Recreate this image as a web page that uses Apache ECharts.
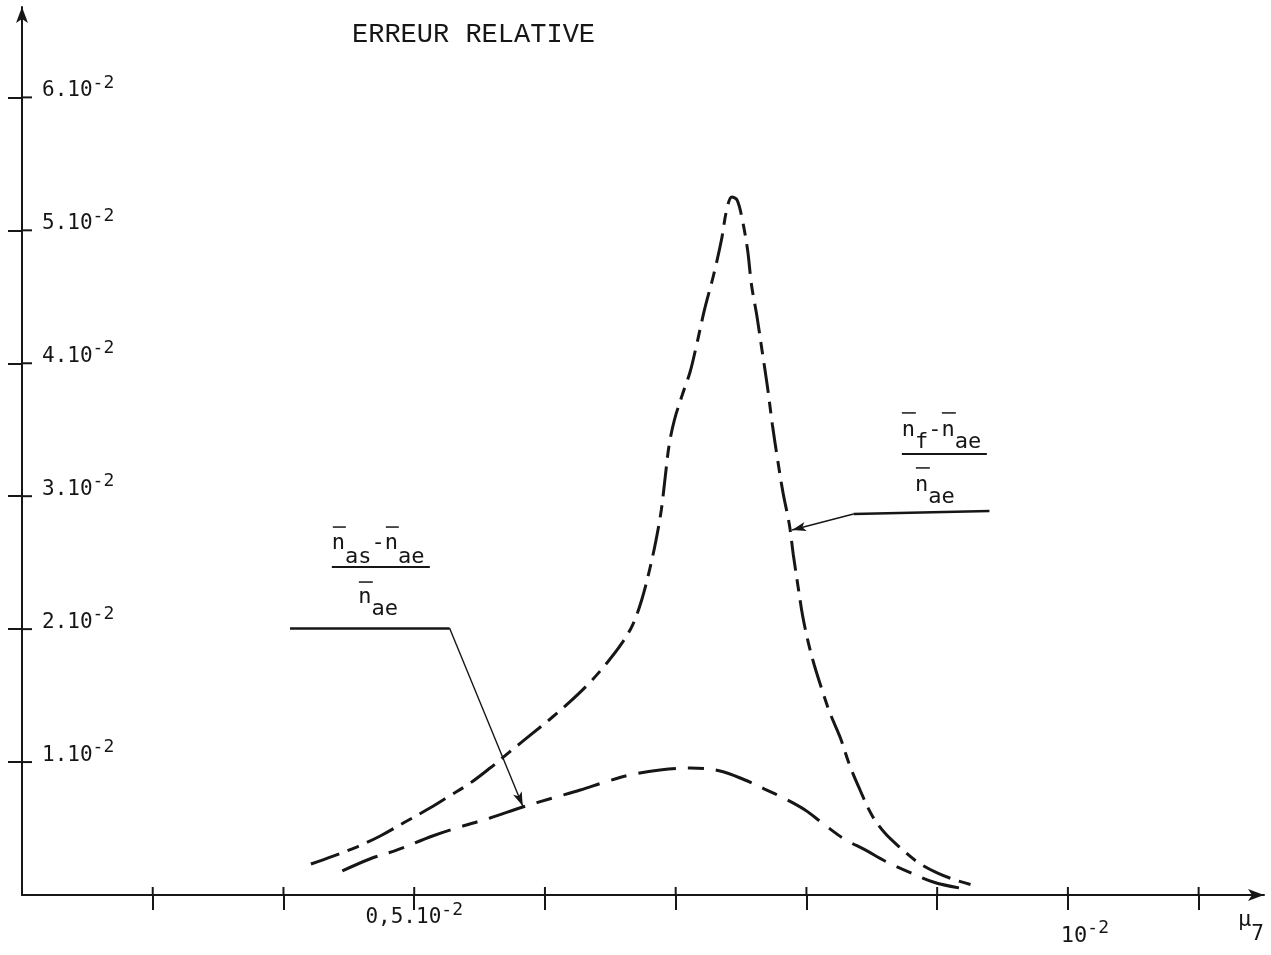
<!DOCTYPE html>
<html>
<head>
<meta charset="utf-8">
<title>Erreur relative</title>
<script src="https://cdn.jsdelivr.net/npm/echarts@6.0.0/dist/echarts.min.js"></script>
<style>
  html, body { margin: 0; padding: 0; background: #fff; }
  #main { width: 1271px; height: 955px; }
</style>
</head>
<body>
<div id="main"></div>
<script>
// courbe (nf - nae) / nae  (tirets, grand pic)
var nfMu = [0.00421, 0.00438, 0.00456, 0.00474, 0.00493, 0.00512, 0.00527, 0.00543, 0.00558, 0.00573,
  0.00589, 0.00604, 0.00619, 0.00634, 0.00648, 0.00659, 0.00667, 0.00674, 0.00680, 0.00685,
  0.00689, 0.00692, 0.00695, 0.00699, 0.00705, 0.00711, 0.00716, 0.00722, 0.00729, 0.00735,
  0.00739, 0.00743, 0.00747, 0.00751, 0.00755, 0.00758, 0.00762, 0.00766, 0.00770, 0.00774,
  0.00778, 0.00782, 0.00787, 0.00790, 0.00794, 0.00797, 0.00801, 0.00806, 0.00812, 0.00818,
  0.00826, 0.00833, 0.00841, 0.00850, 0.00860, 0.00872, 0.00885, 0.00900, 0.00914, 0.00927];
var nfErr = [0.00233, 0.00293, 0.00361, 0.00444, 0.00549, 0.00654, 0.00745, 0.00843, 0.00955, 0.01076,
  0.01204, 0.01324, 0.01452, 0.01595, 0.01753, 0.01896, 0.02031, 0.02219, 0.02445, 0.02671,
  0.02896, 0.03145, 0.03385, 0.03573, 0.03761, 0.03934, 0.04138, 0.04401, 0.04664, 0.04927,
  0.05153, 0.05251, 0.05228, 0.05078, 0.04852, 0.04589, 0.04363, 0.04100, 0.03837, 0.03536,
  0.03272, 0.03032, 0.02783, 0.02558, 0.02294, 0.02106, 0.01918, 0.01730, 0.01542, 0.01369,
  0.01181, 0.00978, 0.00790, 0.00602, 0.00466, 0.00354, 0.00248, 0.00166, 0.00113, 0.00075];

// courbe (nas - nae) / nae  (tirets longs, bosse basse)
var asMu = [0.00445, 0.00466, 0.00487, 0.00514, 0.00535, 0.00558, 0.00583, 0.00606, 0.00627, 0.00646,
  0.00665, 0.00688, 0.00711, 0.00734, 0.00753, 0.00768, 0.00784, 0.00799, 0.00814, 0.00829,
  0.00845, 0.00860, 0.00875, 0.00897, 0.00917];
var asErr = [0.00181, 0.00271, 0.00339, 0.00444, 0.00512, 0.00579, 0.00662, 0.00730, 0.00790, 0.00850,
  0.00903, 0.00940, 0.00955, 0.00933, 0.00865, 0.00797, 0.00722, 0.00639, 0.00527, 0.00421,
  0.00339, 0.00256, 0.00188, 0.00098, 0.00053];

// graduations
var xTicks = [0.003, 0.004, 0.005, 0.006, 0.007, 0.008, 0.009, 0.010, 0.011];
var yTicks = [0.01, 0.02, 0.03, 0.04, 0.05, 0.06];
var yLabelText = ['1.10', '2.10', '3.10', '4.10', '5.10', '6.10'];

// fleches des legendes (en unites des axes)
var asLeader = [[0.00405, 0.02009], [0.00527, 0.02009], [0.00583, 0.00670]];
var nfLeader = [[0.00940, 0.02889], [0.00836, 0.02866], [0.00789, 0.02746]];
var asLabelAt = [0.00437, 0.02467];
var nfLabelAt = [0.00873, 0.03318];

var ink = '#161616';
var mono = '"DejaVu Sans Mono", "Liberation Mono", monospace';
var xMin = 0.002;

function pairs(xs, ys) {
  var out = [];
  for (let i = 0; i < xs.length; i++) {
    out.push([xs[i], ys[i]]);
  }
  return out;
}

function leader(pts) {
  return [
    [{coord: pts[0], lineStyle: {width: 2.5}}, {coord: pts[1]}],
    [{coord: pts[1], lineStyle: {width: 1.4}}, {coord: pts[2], symbol: 'arrow', symbolSize: [7, 14]}]
  ];
}

// petit bout de graduation de l'autre cote de l'axe (les graduations croisent l'axe)
function crossTick(dx, dy) {
  return function (params, api) {
    var p = api.coord([api.value(0), api.value(1)]);
    return {
      type: 'line',
      shape: {x1: p[0], y1: p[1], x2: p[0] + dx, y2: p[1] + dy},
      style: {stroke: ink, lineWidth: 2}
    };
  };
}

var chartDom = document.getElementById('main');
var myChart = echarts.init(chartDom);
var option;

option = {
  animation: false,
  backgroundColor: '#fff',
  title: {
    text: 'ERREUR RELATIVE',
    left: 347,
    top: 16,
    textStyle: {fontFamily: '"Liberation Mono", monospace', fontSize: 27, fontWeight: 'normal', color: ink}
  },
  grid: {left: 22, top: 7, width: 1242, height: 888, containLabel: false},
  xAxis: [
    {
      type: 'value', position: 'bottom', min: xMin, max: 0.0115,
      name: '{m|μ}{s|7}', nameLocation: 'end', nameGap: 0,
      nameTextStyle: {
        align: 'right', verticalAlign: 'top', padding: [14, 0, 0, 0],
        rich: {
          m: {fontFamily: mono, fontSize: 22, lineHeight: 14, verticalAlign: 'top', color: ink},
          s: {fontFamily: mono, fontSize: 21, lineHeight: 52, color: ink}
        }
      },
      axisLine: {show: true, symbol: ['none', 'arrow'], symbolSize: [9, 16], lineStyle: {color: ink, width: 2}},
      axisTick: {show: true, customValues: xTicks, length: 15, inside: false, lineStyle: {color: ink, width: 2}},
      axisLabel: {
        customValues: [0.005], margin: 6,
        formatter: function () { return '{a|0,5.10}{b|-2}'; },
        rich: {
          a: {fontFamily: mono, fontSize: 21, lineHeight: 34, color: ink},
          b: {fontFamily: mono, fontSize: 18, lineHeight: 14, verticalAlign: 'top', color: ink}
        }
      },
      splitLine: {show: false}
    },
    {
      // axe superpose, seulement pour le libelle 10^-2 place plus bas
      type: 'value', position: 'bottom', min: xMin, max: 0.0115,
      axisLine: {show: false},
      axisTick: {show: false},
      axisLabel: {
        customValues: [0.01], margin: 24,
        formatter: function () { return '{a|10}{b|-2}'; },
        rich: {
          a: {fontFamily: mono, fontSize: 22, lineHeight: 34, padding: [0, 0, 0, 34], color: ink},
          b: {fontFamily: mono, fontSize: 18, lineHeight: 14, verticalAlign: 'top', color: ink}
        }
      },
      splitLine: {show: false}
    }
  ],
  yAxis: {
    type: 'value', position: 'left', min: 0, max: 0.0668,
    axisLine: {show: true, symbol: ['none', 'arrow'], symbolSize: [9, 16], lineStyle: {color: ink, width: 2}},
    axisTick: {show: true, customValues: yTicks, length: 14, inside: false, lineStyle: {color: ink, width: 2}},
    axisLabel: {
      customValues: yTicks, inside: true, margin: 20, padding: [0, 0, 13, 0],
      formatter: function (v) {
        return '{a|' + yLabelText[Math.round(v * 100) - 1] + '}{b|-2}';
      },
      rich: {
        a: {fontFamily: mono, fontSize: 21, lineHeight: 34, color: ink},
        b: {fontFamily: mono, fontSize: 18, lineHeight: 14, verticalAlign: 'top', color: ink}
      }
    },
    splitLine: {show: false}
  },
  series: [
    {
      name: 'nf',
      type: 'line',
      data: pairs(nfMu, nfErr),
      showSymbol: false,
      smooth: 0.35,
      lineStyle: {color: ink, width: 3, type: [30, 9, 12, 9], cap: 'butt'},
      markLine: {
        silent: true, animation: false, symbol: ['none', 'none'],
        label: {show: false},
        lineStyle: {color: ink, type: 'solid'},
        data: leader(nfLeader)
      }
    },
    {
      name: 'as',
      type: 'line',
      data: pairs(asMu, asErr),
      showSymbol: false,
      smooth: 0.35,
      lineStyle: {color: ink, width: 3, type: [38, 12, 16, 12], cap: 'butt'},
      markLine: {
        silent: true, animation: false, symbol: ['none', 'none'],
        label: {show: false},
        lineStyle: {color: ink, type: 'solid'},
        data: leader(asLeader)
      }
    },
    {
      name: 'xTickTop',
      type: 'custom',
      silent: true,
      clip: false,
      data: xTicks.map(function (v) { return [v, 0]; }),
      renderItem: crossTick(0, -8)
    },
    {
      name: 'yTickRight',
      type: 'custom',
      silent: true,
      clip: false,
      data: yTicks.map(function (v) { return [xMin, v]; }),
      renderItem: crossTick(10, 0)
    }
  ]
};

option && myChart.setOption(option);

// legendes en forme de fraction, posees sur un point de donnees
var fracFont = '22px ' + mono;
function fraction(at, rows, bars) {
  var p = myChart.convertToPixel({xAxisIndex: 0, yAxisIndex: 0}, at);
  var children = [];
  rows.forEach(function (r) {
    children.push({
      type: 'text', x: r[1], y: r[2],
      style: {text: r[0], font: fracFont, fill: ink, align: 'left', verticalAlign: 'middle',
        textAlign: 'left', textVerticalAlign: 'middle'}
    });
  });
  bars.forEach(function (b) {
    children.push({
      type: 'line',
      shape: {x1: b[0], y1: b[1], x2: b[2], y2: b[1]},
      style: {stroke: ink, lineWidth: b[3]}
    });
  });
  return {type: 'group', x: p[0], y: p[1], silent: true, children: children};
}

myChart.setOption({
  graphic: [
    fraction(asLabelAt,
      [['n  -n', 0, -23.5], [' as  ae', 0, -10], ['  n', 0, 30.5], ['   ae', 0, 42]],
      [[1, -40, 14, 1.5], [54, -40, 67, 1.5], [0, 0, 98, 2], [27, 15, 41, 1.5]]),
    fraction(nfLabelAt,
      [['n -n', 0, -24], [' f  ae', 0, -11.5], [' n', 0, 31], ['  ae', 0, 43.5]],
      [[0, -41, 14, 1.5], [40, -41, 54, 1.5], [0, 0, 85, 2], [14, 14, 28, 1.5]])
  ]
});
</script>
</body>
</html>
